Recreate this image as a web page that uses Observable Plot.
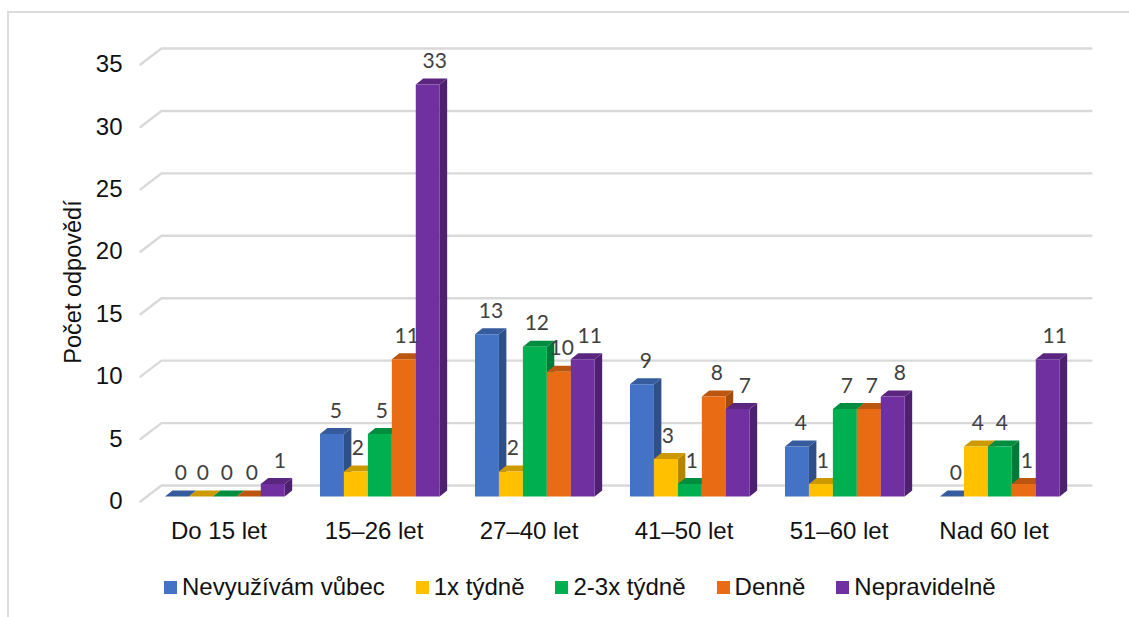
<!DOCTYPE html>
<html lang="cs">
<head>
<meta charset="utf-8">
<script src="https://cdn.jsdelivr.net/npm/d3@7"></script>
<script src="https://cdn.jsdelivr.net/npm/@observablehq/plot@0.6"></script>
<style>
html,body{margin:0;padding:0;background:#fff;overflow:hidden}
#wrap{position:relative;width:1129px;height:617px}
#frame{position:absolute;left:7px;top:11px;right:0;bottom:0;border-top:2px solid #dcdcdc;border-left:2px solid #dcdcdc;pointer-events:none}
#legend{position:absolute;left:164px;top:573px;display:flex;align-items:center;font:24px "Liberation Sans",Arial,sans-serif;color:#111;white-space:nowrap}
#legend span.item{display:flex;align-items:center;margin-right:31px}
#legend i{display:inline-block;width:13px;height:13px;margin-right:5px}
svg{display:block}
</style>
</head>
<body>
<div id="wrap"><div id="chart"></div><div id="legend"></div><div id="frame"></div></div>
<script>
const categories = ["Do 15 let", "15–26 let", "27–40 let", "41–50 let", "51–60 let", "Nad 60 let"];
const seriesNames = ["Nevyužívám vůbec", "1x týdně", "2-3x týdně", "Denně", "Nepravidelně"];
const nevyuzivam = [0, 5, 13, 9, 4, 0];
const jedenkrat = [0, 2, 2, 3, 1, 4];
const dvatrikrat = [0, 5, 12, 1, 7, 4];
const denne = [0, 11, 10, 8, 7, 1];
const nepravidelne = [1, 33, 11, 7, 8, 11];
const yTicks = [0, 5, 10, 15, 20, 25, 30, 35];

const seriesValues = [nevyuzivam, jedenkrat, dvatrikrat, denne, nepravidelne];
const frontColors = ["#4472C4", "#FFC000", "#00B050", "#E96C14", "#7030A0"];
const sideColors = ["#2F4F88", "#B38600", "#007A38", "#A34B0E", "#4E2170"];
const topColors = ["#365C9E", "#CC9900", "#008D40", "#BA5610", "#5A2680"];
const labelNudge = [4, 2, 2, 3, 7];

// Oblique projection expressed in scale units (1 x unit = one category, 1 y unit = one answer).
const barInset = 0.158, barWidth = 0.1545, barDepthX = 0.048, barDepthY = 0.48;
const wallDepthX = 0.135, wallRise = 0.88, wallDrop = -0.4;

const faces = [];
const labels = [];
categories.forEach((cat, i) => {
  seriesValues.forEach((vals, s) => {
    const v = vals[i];
    const x0 = i + barInset + s * barWidth, x1 = x0 + barWidth;
    const key = `${i}-${s}`;
    const poly = (name, fill, pts) => pts.forEach(([x, y]) => faces.push({id: `${key}-${name}`, x, y, fill}));
    poly("side", sideColors[s], [[x1, 0], [x1 + barDepthX, barDepthY], [x1 + barDepthX, v + barDepthY], [x1, v]]);
    poly("top", topColors[s], [[x0, v], [x1, v], [x1 + barDepthX, v + barDepthY], [x0 + barDepthX, v + barDepthY]]);
    if (v > 0) poly("front", frontColors[s], [[x0, 0], [x1, 0], [x1, v], [x0, v]]);
    labels.push({x: (x0 + x1) / 2, y: v, text: String(v), s});
  });
});

const grid = yTicks.flatMap(t => [
  {t, x: 0, y: t + wallDrop},
  {t, x: wallDepthX, y: t + wallRise},
  {t, x: categories.length + wallDepthX, y: t + wallRise}
]);

const plot = Plot.plot({
  width: 1129,
  height: 565,
  marginLeft: 140,
  marginRight: 59,
  marginTop: 59,
  marginBottom: 69,
  style: {background: "#fff", overflow: "visible"},
  x: {type: "linear", domain: [0, categories.length], axis: null},
  y: {domain: [0, 35], axis: null},
  marks: [
    Plot.line(grid, {x: "x", y: "y", z: "t", stroke: "#d9d9d9", strokeWidth: 2.4, curve: "linear"}),
    Plot.axisY({ticks: yTicks, tickSize: 0, tickPadding: 18, dy: 5, fontSize: 24, fontFamily: "Liberation Sans", color: "#111", label: null, tickFormat: d => String(d)}),
    Plot.text(["Počet odpovědí"], {frameAnchor: "left", textAnchor: "middle", dx: -67, dy: 4, rotate: -90, fontSize: 23.5, fontFamily: "Liberation Sans", fill: "#111"}),
    Plot.line(faces, {x: "x", y: "y", z: "id", fill: "fill", stroke: null, curve: "linear"}),
    ...labelNudge.map((nudge, s) => Plot.text(labels.filter(d => d.s === s), {x: "x", y: "y", text: "text", dx: nudge, dy: -23, fontSize: 21, fontFamily: "Lato", fill: "#404040"})),
    Plot.axisX({ticks: categories.map((_, i) => i + 0.5), tickSize: 0, tickPadding: 25, dx: 1, fontSize: 24, fontFamily: "Liberation Sans", color: "#111", label: null, tickFormat: d => categories[Math.floor(d)]})
  ]
});
document.getElementById("chart").appendChild(plot);

const legend = document.getElementById("legend");
seriesNames.forEach((name, s) => {
  const item = document.createElement("span");
  item.className = "item";
  const sw = document.createElement("i");
  sw.style.background = frontColors[s];
  item.appendChild(sw);
  item.appendChild(document.createTextNode(name));
  legend.appendChild(item);
});
</script>
</body>
</html>
